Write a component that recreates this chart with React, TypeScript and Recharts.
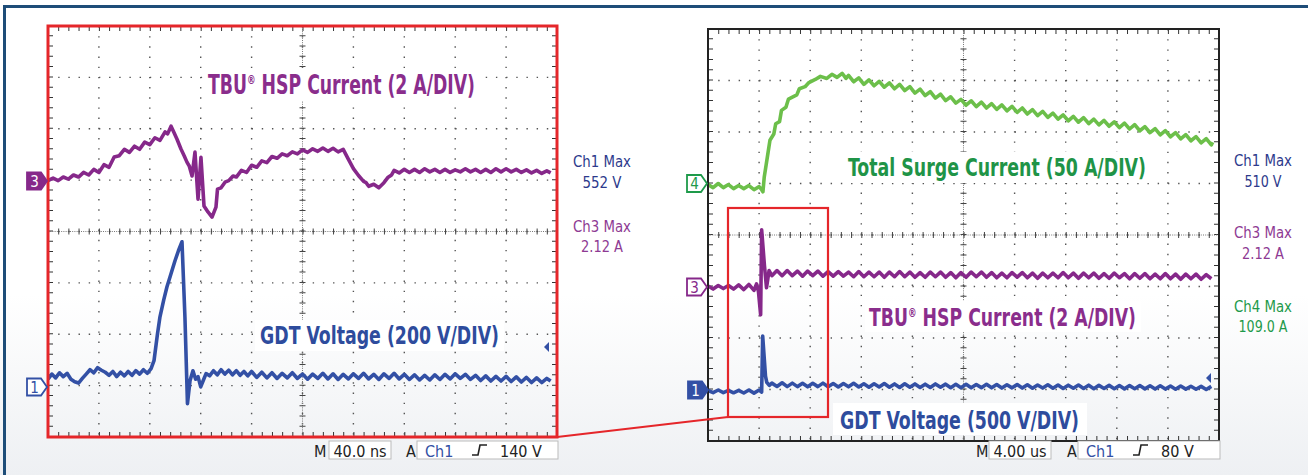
import { LineChart, Line, XAxis, YAxis, CartesianGrid, ReferenceLine } from "recharts"

// screen divisions (8 vertical, 10 horizontal)
const divisions = [-4, -3, -2, -1, 0, 1, 2, 3, 4]
const leftTime = [0, 40, 80, 120, 160, 200, 240, 280, 320, 360, 400] // ns, 40 ns/div
const rightTime = [0, 4, 8, 12, 16, 20, 24, 28, 32, 36, 40] // us, 4 us/div

// left scope: [t ns, value]
const leftCh3: [number, number][] = [
  [0, -0.02], [4, 0.08], [8, -0.02], [12, 0.12], [16, 0.04], [20, 0.2], [24, 0.12], [28, 0.3], [32, 0.2],
  [36, 0.42], [40, 0.3], [44, 0.6], [48, 0.5], [52, 0.9], [56, 0.95], [60, 1.2], [64, 1.08], [68, 1.32],
  [72, 1.2], [76, 1.48], [80, 1.38], [84, 1.65], [88, 1.55], [92, 1.88], [94, 1.8], [96.7, 2.1], [99, 1.85],
  [101.4, 1.59], [104.5, 1.21], [107, 0.95], [109.2, 0.7], [111, 0.55], [113.2, 0.16], [115.5, 1.09],
  [117.9, -0.74], [120.2, 0.89], [122.6, -1.01], [125.7, -1.24], [128.9, -1.44], [132, -1.05], [133.2, -0.35],
  [136, -0.3], [139.1, -0.08], [142, -0.02], [145.4, 0.16], [148, 0.12], [152, 0.38], [156, 0.3], [160, 0.58],
  [164, 0.5], [168, 0.75], [172, 0.68], [176, 0.92], [180, 0.85], [184, 1.02], [188, 0.95], [192, 1.1],
  [196, 1.02], [200, 1.18], [204, 1.08], [208, 1.22], [212, 1.12], [216, 1.25], [220, 1.12], [224, 1.24],
  [228, 1.1], [232, 1.2], [236, 0.82], [240, 0.45], [244, 0.18], [248, -0.05], [250, -0.1], [252, -0.24],
  [256, -0.16], [260, -0.3], [264, -0.1], [267, 0.1], [270, 0.2], [272, 0.38], [276, 0.28], [280, 0.42],
  [284, 0.3], [288, 0.42], [292, 0.3], [296, 0.44], [300, 0.32], [304, 0.42], [308, 0.3], [312, 0.42],
  [316, 0.3], [320, 0.4], [324, 0.32], [328, 0.44], [332, 0.32], [336, 0.42], [340, 0.3], [344, 0.42],
  [348, 0.3], [352, 0.44], [356, 0.32], [360, 0.44], [364, 0.32], [368, 0.42], [372, 0.3], [376, 0.4],
  [380, 0.28], [384, 0.38], [388, 0.26], [392, 0.36], [395, 0.28],
]

const leftCh1: [number, number][] = [
  [0, 25], [3, 45], [6, 30], [9, 50], [12, 35], [15, 48], [18, 25], [21, 15], [24, 10], [27, 28], [30, 45],
  [33, 62], [36, 50], [39, 70], [42, 60], [45, 52], [48, 40], [51, 55], [54, 35], [57, 52], [60, 38], [63, 55],
  [66, 40], [69, 58], [72, 45], [75, 62], [78, 48], [81, 66], [83.3, 97], [86, 200], [88, 268], [91, 335],
  [93.5, 385], [96, 425], [99.8, 486], [102.5, 525], [105.3, 560], [107.6, 268], [109.6, -70], [111.6, 19],
  [113.9, 58], [116, 25], [117.9, 35], [120, -5], [122, 20], [124.2, 47], [127, 38], [130, 58], [133, 42],
  [136, 62], [139, 45], [142, 60], [145, 42], [148, 58], [151, 40], [154, 55], [157, 38], [160, 55],
  [164, 32], [168, 52], [172, 30], [176, 50], [180, 28], [184, 48], [188, 30], [192, 50], [196, 28],
  [200, 45], [204, 25], [208, 45], [212, 28], [216, 48], [220, 26], [224, 46], [228, 24], [232, 44],
  [236, 26], [240, 46], [244, 28], [248, 48], [252, 26], [256, 44], [260, 24], [264, 46], [268, 28],
  [272, 48], [276, 26], [280, 44], [284, 24], [288, 42], [292, 22], [296, 40], [300, 22], [304, 42],
  [308, 24], [312, 44], [316, 26], [320, 46], [324, 28], [328, 44], [332, 24], [336, 40], [340, 20],
  [344, 38], [348, 18], [352, 36], [356, 18], [360, 36], [364, 16], [368, 34], [372, 14], [376, 32],
  [380, 12], [384, 30], [388, 12], [392, 28], [395, 18],
]

// right scope: [t us, value]
const rightCh4: [number, number][] = [
  [0, -1], [0.4, -4], [0.8, 0], [1.2, -4], [1.6, -1], [2.0, -5], [2.4, -2], [2.8, -5], [3.2, -2], [3.6, -6],
  [4.0, -3], [4.2, -6], [4.3, -8], [4.4, 6], [4.55, 18], [4.7, 30], [4.85, 42], [5.15, 48], [5.3, 58],
  [5.6, 60], [5.75, 71], [6.1, 74], [6.3, 82], [6.95, 86], [7.15, 92], [7.6, 94], [7.9, 98], [8.4, 101],
  [8.8, 104], [9.3, 102], [9.7, 106], [10.1, 103], [10.5, 107], [10.8, 102],
  [11.0, 105], [11.4, 98.8], [11.8, 102.5], [12.2, 96.2], [12.6, 100.6], [13.0, 94.9], [13.4, 99.2],
  [13.8, 93.5], [14.2, 97.7], [14.6, 92], [15.0, 96.3], [15.4, 90.3], [15.8, 94.1], [16.2, 87.8],
  [16.6, 91.6], [17.0, 85.4], [17.4, 89.1], [17.8, 82.9], [18.2, 86.7], [18.6, 80.5], [19.0, 84.2],
  [19.4, 78], [19.8, 81.7], [20.2, 76], [20.6, 80.3], [21.0, 74.6], [21.4, 79], [21.8, 73.3], [22.2, 77.6],
  [22.6, 72], [23.0, 76.3], [23.4, 70.6], [23.8, 74.9], [24.2, 69.1], [24.6, 73.3], [25.0, 67.5],
  [25.4, 71.7], [25.8, 65.9], [26.2, 70], [26.6, 64.2], [27.0, 68.4], [27.4, 62.5], [27.8, 66.7],
  [28.2, 60.9], [28.6, 65.2], [29.0, 59.5], [29.4, 63.9], [29.8, 58.2], [30.2, 62.5], [30.6, 56.9],
  [31.0, 61.2], [31.4, 55.6], [31.8, 59.9], [32.2, 54.3], [32.6, 58.6], [33.0, 52.9], [33.4, 57.2],
  [33.8, 51.2], [34.2, 55.2], [34.6, 49.3], [35.0, 53.3], [35.4, 47.3], [35.8, 51.4], [36.2, 45.4],
  [36.6, 49.4], [37.0, 43.4], [37.4, 47.5], [37.8, 41.5], [38.2, 45.5], [38.6, 39.5], [39.0, 43.5],
  [39.4, 37.5], [39.5, 40],
]

const rightCh3: [number, number][] = [
  [0, 0.02], [0.4, -0.1], [0.8, 0.04], [1.2, -0.08], [1.6, 0.04], [2.0, -0.1], [2.4, 0.06], [2.8, -0.12],
  [3.2, 0.08], [3.6, -0.15], [3.8, 0.1], [3.95, -0.2], [4.12, -1.1], [4.2, 2.2], [4.42, 0.8], [4.58, -0.05],
  [4.78, 0.62], [5.0, 0.42], [5.4, 0.62], [5.8, 0.42], [6.2, 0.62], [6.6, 0.42], [7.0, 0.6], [7.4, 0.4],
  [7.8, 0.6], [8.2, 0.42], [8.6, 0.6], [9.0, 0.4], [9.4, 0.58], [9.8, 0.4], [10.2, 0.58], [10.6, 0.4],
  [11.0, 0.56], [11.4, 0.38], [11.8, 0.58], [12.2, 0.38], [12.6, 0.56], [13.0, 0.38], [13.4, 0.56],
  [13.8, 0.36], [14.2, 0.56], [14.6, 0.38], [15.0, 0.58], [15.4, 0.38], [15.8, 0.56], [16.2, 0.36],
  [16.6, 0.54], [17.0, 0.36], [17.4, 0.56], [17.8, 0.38], [18.2, 0.56], [18.6, 0.36], [19.0, 0.54],
  [19.4, 0.34], [19.8, 0.54], [20.2, 0.36], [20.6, 0.56], [21.0, 0.38], [21.4, 0.56], [21.8, 0.36],
  [22.2, 0.54], [22.6, 0.34], [23.0, 0.52], [23.4, 0.34], [23.8, 0.54], [24.2, 0.36], [24.6, 0.54],
  [25.0, 0.34], [25.4, 0.52], [25.8, 0.32], [26.2, 0.52], [26.6, 0.34], [27.0, 0.52], [27.4, 0.34],
  [27.8, 0.54], [28.2, 0.34], [28.6, 0.52], [29.0, 0.32], [29.4, 0.52], [29.8, 0.34], [30.2, 0.52],
  [30.6, 0.32], [31.0, 0.5], [31.4, 0.32], [31.8, 0.52], [32.2, 0.34], [32.6, 0.5], [33.0, 0.3],
  [33.4, 0.5], [33.8, 0.32], [34.2, 0.5], [34.6, 0.3], [35.0, 0.48], [35.4, 0.3], [35.8, 0.5], [36.2, 0.3],
  [36.6, 0.48], [37.0, 0.28], [37.4, 0.48], [37.8, 0.3], [38.2, 0.48], [38.6, 0.28], [39.0, 0.46], [39.4, 0.3],
]

const rightCh1: [number, number][] = [
  [0, -10], [0.4, -30], [0.8, -5], [1.2, -30], [1.6, -8], [2.0, -32], [2.4, -8], [2.8, -34], [3.2, -5],
  [3.6, -35], [4.0, -5], [4.2, -25], [4.28, 520], [4.5, 130], [4.6, 70], [4.8, 40], [5.0, 62], [5.4, 30],
  [5.8, 65], [6.2, 28], [6.6, 62], [7.0, 28], [7.4, 60], [7.8, 26], [8.2, 60], [8.6, 28], [9.0, 62],
  [9.4, 26], [9.8, 58], [10.2, 24], [10.6, 58], [11.0, 26], [11.4, 60], [11.8, 24], [12.2, 56], [12.6, 22],
  [13.0, 56], [13.4, 24], [13.8, 58], [14.2, 22], [14.6, 54], [15.0, 20], [15.4, 56], [15.8, 22], [16.2, 54],
  [16.6, 20], [17.0, 52], [17.4, 20], [17.8, 54], [18.2, 22], [18.6, 52], [19.0, 18], [19.4, 50], [19.8, 18],
  [20.2, 50], [20.6, 16], [21.0, 48], [21.4, 18], [21.8, 50], [22.2, 16], [22.6, 48], [23.0, 14], [23.4, 46],
  [23.8, 16], [24.2, 48], [24.6, 14], [25.0, 46], [25.4, 12], [25.8, 44], [26.2, 14], [26.6, 46], [27.0, 12],
  [27.4, 44], [27.8, 10], [28.2, 42], [28.6, 12], [29.0, 44], [29.4, 10], [29.8, 42], [30.2, 8], [30.6, 40],
  [31.0, 10], [31.4, 40], [31.8, 8], [32.2, 38], [32.6, 6], [33.0, 38], [33.4, 8], [33.8, 38], [34.2, 6],
  [34.6, 36], [35.0, 4], [35.4, 36], [35.8, 4], [36.2, 34], [36.6, 2], [37.0, 34], [37.4, 4], [37.8, 32],
  [38.2, 2], [38.6, 30], [39.0, 0], [39.4, 30],
]

const PURPLE = "#86288a"
const BLUE = "#3350a5"
const GREEN = "#6cbf4a"
const RED = "#e5262a"
const NARROW = "'Liberation Sans Narrow', 'DejaVu Sans Condensed', 'Arial Narrow', sans-serif"

type Trace = { id: string; data: [number, number][]; color: string; domain: [number, number] }

const toPoints = (pairs: [number, number][]) => pairs.map(([t, v]) => ({ t, v }))

function Scope({ left, width, margin, time, traces }: {
  left: number
  width: number
  margin: { top: number; right: number; bottom: number; left: number }
  time: number[]
  traces: Trace[]
}) {
  const span = time[time.length - 1]
  const plotW = width - margin.left - margin.right
  const plotH = 475 - margin.top - margin.bottom
  const gapX = plotW / 50 - 1
  const gapY = plotH / 40 - 1
  // graticule lines: one per division of the screen
  const vGen = () => time.map((_, i) => margin.left + (i * plotW) / (time.length - 1))
  const hGen = () => divisions.map((_, i) => margin.top + (i * plotH) / (divisions.length - 1))
  return (
    <div style={{ position: "absolute", left, top: 0 }}>
      <LineChart width={width} height={475} margin={margin}>
        <XAxis xAxisId={0} type="number" dataKey="t" domain={[0, span]} ticks={time} allowDataOverflow
          height={0} tick={false} tickLine={false} axisLine={false} />
        <YAxis yAxisId={0} type="number" domain={[-4, 4]} ticks={divisions} allowDataOverflow
          width={0} tick={false} tickLine={false} axisLine={false} />
        {traces.map((tr) => (
          <YAxis key={tr.id} yAxisId={tr.id} type="number" domain={tr.domain} allowDataOverflow hide />
        ))}
        <CartesianGrid stroke="#555" strokeWidth={1.4} strokeDasharray={`1.4 ${gapX - 0.4}`}
          verticalCoordinatesGenerator={vGen} horizontalCoordinatesGenerator={hGen} />
        {/* minor ticks along the screen edges, clipped to the inner half */}
        <ReferenceLine x={0} stroke="#333" strokeWidth={10} strokeDasharray={`1 ${gapY}`} ifOverflow="hidden" />
        <ReferenceLine x={span} stroke="#333" strokeWidth={10} strokeDasharray={`1 ${gapY}`} ifOverflow="hidden" />
        <ReferenceLine y={-4} stroke="#333" strokeWidth={10} strokeDasharray={`1 ${gapX}`} ifOverflow="hidden" />
        <ReferenceLine y={4} stroke="#333" strokeWidth={10} strokeDasharray={`1 ${gapX}`} ifOverflow="hidden" />
        {/* centre cross */}
        <ReferenceLine x={span / 2} stroke="#777" strokeDasharray="1 1.2" />
        <ReferenceLine y={0} stroke="#777" strokeDasharray="1 1.2" />
        <ReferenceLine x={span / 2} stroke="#444" strokeWidth={6} strokeDasharray={`1 ${gapY}`} />
        <ReferenceLine y={0} stroke="#444" strokeWidth={6} strokeDasharray={`1 ${gapX}`} />
        {traces.map((tr) => (
          <Line key={tr.id} yAxisId={tr.id} data={toPoints(tr.data)} dataKey="v" type="linear"
            stroke={tr.color} strokeWidth={3.6} strokeLinejoin="round" dot={false} activeDot={false}
            isAnimationActive={false} />
        ))}
      </LineChart>
    </div>
  )
}

function Title({ x, y, w, size, color, parts, box }: {
  x: number; y: number; w: number; size: number; color: string; parts: string[]; box: number[]
}) {
  return (
    <g>
      <rect x={box[0]} y={box[1]} width={box[2]} height={box[3]} fill="#fff" />
      <text x={x} y={y} textLength={w} lengthAdjust="spacingAndGlyphs" fontFamily={NARROW}
        fontWeight={700} fontSize={size} fill={color}>
        {parts.length > 1 ? (
          <>
            {parts[0]}
            <tspan fontSize={size * 0.5} dy={-size * 0.38}>®</tspan>
            <tspan dy={size * 0.38}>{parts[1]}</tspan>
          </>
        ) : parts[0]}
      </text>
    </g>
  )
}

function Note({ x, y, w, text, color, size = 15 }: {
  x: number; y: number; w: number; text: string; color: string; size?: number
}) {
  return (
    <text x={x} y={y} textAnchor="middle" textLength={w} lengthAdjust="spacingAndGlyphs"
      fontFamily={NARROW} fontSize={size} fill={color}>{text}</text>
  )
}

function Marker({ x, yc, label, color, filled }: {
  x: number; yc: number; label: string; color: string; filled: boolean
}) {
  const h = 8.5
  return (
    <g>
      <path d={`M${x},${yc - h} H${x + 14} L${x + 20},${yc} L${x + 14},${yc + h} H${x} Z`}
        fill={filled ? color : "#fff"} stroke={color} strokeWidth={1.8} />
      <text x={x + 7.5} y={yc + 5.5} textAnchor="middle" fontFamily={NARROW} fontSize={15}
        fill={filled ? "#fff" : color}>{label}</text>
    </g>
  )
}

function Readout({ mx, box1, timebase, box2, level }: {
  mx: number; box1: number[]; timebase: string; box2: number[]; level: string
}) {
  const y = 457
  return (
    <g fontFamily={NARROW} fontSize={16}>
      <text x={mx} y={y} fill="#222">M</text>
      <rect x={box1[0]} y={441} width={box1[1]} height={18} fill="#fff" stroke="#bbb" />
      <text x={box1[0] + box1[1] / 2} y={y} textAnchor="middle" fill="#222">{timebase}</text>
      <text x={box2[0] - 11} y={y} fill="#222">A</text>
      <rect x={box2[0]} y={441} width={box2[1]} height={18} fill="#fff" stroke="#bbb" />
      <text x={box2[0] + 8} y={y} fill={BLUE}>Ch1</text>
      <path d={`M${box2[0] + 55},${y - 2} h6 l2,-10 h7`} fill="none" stroke="#222" strokeWidth={1.6} />
      <text x={box2[0] + 83} y={y} fill="#222">{level}</text>
    </g>
  )
}

export default function App() {
  return (
    <div style={{
      position: "absolute", left: 0, top: 0, width: 1308, height: 475, overflow: "hidden",
      background: "linear-gradient(to bottom, #ffffff 0%, #ffffff 62%, #eef0f3 100%)",
    }}>
      <Scope left={0} width={600} margin={{ top: 26, right: 43, bottom: 38, left: 48 }} time={leftTime}
        traces={[
          { id: "c3", data: leftCh3, color: PURPLE, domain: [-10, 6] },
          { id: "c1", data: leftCh1, color: BLUE, domain: [-200, 1400] },
        ]} />
      <Scope left={650} width={620} margin={{ top: 29, right: 51, bottom: 34, left: 58 }} time={rightTime}
        traces={[
          { id: "c4", data: rightCh4, color: GREEN, domain: [-250, 150] },
          { id: "c3", data: rightCh3, color: PURPLE, domain: [-6, 10] },
          { id: "c1", data: rightCh1, color: BLUE, domain: [-500, 3500] },
        ]} />
      <svg width={1308} height={475} style={{ position: "absolute", left: 0, top: 0, pointerEvents: "none" }}>
        <rect x={3} y={5} width={1305} height={3} fill="#1e4d78" />
        <rect x={3} y={5} width={3} height={470} fill="#1e4d78" />

        <rect x={48} y={26} width={509} height={411} fill="none" stroke={RED} strokeWidth={3} />
        <rect x={708} y={29} width={511} height={412} fill="none" stroke="#222" strokeWidth={2} />
        <rect x={728} y={208} width={100} height={209} fill="none" stroke={RED} strokeWidth={2.2} />
        <line x1={557} y1={437} x2={728} y2={417} stroke={RED} strokeWidth={2.2} />

        <Title x={208} y={94} w={267} size={26} color="#8a2d8c" parts={["TBU", " HSP Current (2 A/DIV)"]}
          box={[204, 68, 276, 33]} />
        <Title x={260} y={344} w={239} size={25} color="#2e4c9d" parts={["GDT Voltage (200 V/DIV)"]}
          box={[255, 320, 249, 31]} />
        <Title x={848} y={176} w={298} size={25} color="#1f9447" parts={["Total Surge Current (50 A/DIV)"]}
          box={[844, 152, 306, 31]} />
        <Title x={869} y={326} w={267} size={25} color="#8a2d8c" parts={["TBU", " HSP Current (2 A/DIV)"]}
          box={[865, 301, 276, 31]} />
        <Title x={840} y={429} w={239} size={24.5} color="#2e4c9d" parts={["GDT Voltage (500 V/DIV)"]}
          box={[833, 403, 254, 32]} />

        <Note x={602} y={167} w={58} text="Ch1 Max" color="#2d3a8c" />
        <Note x={602} y={188} w={39} text="552 V" color="#2d3a8c" />
        <Note x={602} y={232} w={58} text="Ch3 Max" color="#8e3a93" />
        <Note x={602} y={252} w={42} text="2.12 A" color="#8e3a93" />
        <Note x={1263} y={166} w={58} text="Ch1 Max" color="#2d3a8c" />
        <Note x={1263} y={187} w={37} text="510 V" color="#2d3a8c" />
        <Note x={1263} y={238} w={58} text="Ch3 Max" color="#8e3a93" />
        <Note x={1263} y={259} w={42} text="2.12 A" color="#8e3a93" />
        <Note x={1263} y={312} w={58} text="Ch4 Max" color="#1e9a4a" />
        <Note x={1263} y={332} w={49} text="109.0 A" color="#1e9a4a" />

        <Marker x={27} yc={181} label="3" color={PURPLE} filled />
        <Marker x={27} yc={387} label="1" color={BLUE} filled={false} />
        <Marker x={687} yc={183.5} label="4" color="#1e9a4a" filled={false} />
        <Marker x={687} yc={287} label="3" color={PURPLE} filled={false} />
        <Marker x={688} yc={390} label="1" color={BLUE} filled />

        <path d="M544,347 L549,342 L549,352 Z" fill={BLUE} />
        <path d="M1206,378 L1211,373 L1211,383 Z" fill={BLUE} />

        <Readout mx={314} box1={[329, 62]} timebase="40.0 ns" box2={[417, 141]} level="140 V" />
        <Readout mx={976} box1={[989, 62]} timebase="4.00 us" box2={[1078, 142]} level="80 V" />
      </svg>
    </div>
  )
}
